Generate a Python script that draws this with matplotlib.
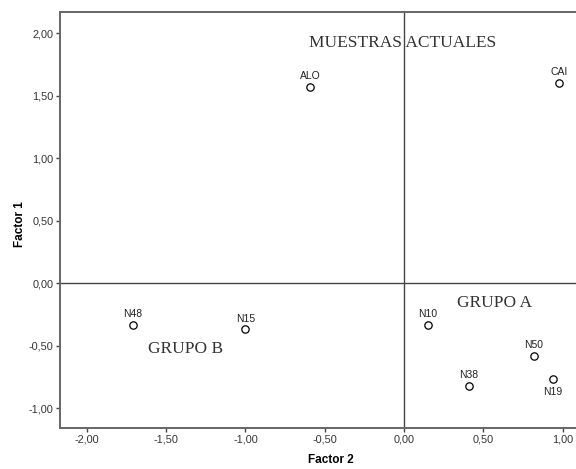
import matplotlib.pyplot as plt
from matplotlib.ticker import FuncFormatter

# Datos (Factor 2 en x, Factor 1 en y)
names = ["ALO", "CAI", "N48", "N15", "N10", "N50", "N38", "N19"]
factor2 = [-0.59, 0.98, -1.71, -1.00, 0.15, 0.82, 0.41, 0.94]
factor1 = [1.57, 1.605, -0.335, -0.37, -0.335, -0.58, -0.82, -0.765]
label_below = ["N19"]

groups = ["MUESTRAS ACTUALES", "GRUPO A", "GRUPO B"]
group_x = [-0.01, 0.57, -1.38]
group_y = [1.92, -0.16, -0.53]

xticks = [-2.0, -1.5, -1.0, -0.5, 0.0, 0.5, 1.0]
yticks = [-1.0, -0.5, 0.0, 0.5, 1.0, 1.5, 2.0]

sans = "Liberation Sans"
serif = "Liberation Serif"
spine_col = "#666666"

fig = plt.figure(figsize=(5.76, 4.69), dpi=100)
ax = fig.add_axes([60 / 576, 1 - 428 / 469, 516 / 576, 416 / 469])

ax.axhline(0, color="#444444", lw=1.0, zorder=1)
ax.axvline(0, color="#444444", lw=1.0, zorder=1)

ax.scatter(factor2, factor1, s=28, facecolors="white", edgecolors="black",
           linewidths=0.9, zorder=3)
for n, x, y in zip(names, factor2, factor1):
    if n in label_below:
        ax.annotate(n, (x, y), xytext=(0, -6), textcoords="offset points",
                    ha="center", va="top", fontsize=7.5, family=sans,
                    color="#222222")
    else:
        ax.annotate(n, (x, y), xytext=(0, 4), textcoords="offset points",
                    ha="center", va="bottom", fontsize=7.5, family=sans,
                    color="#222222")

for g, x, y in zip(groups, group_x, group_y):
    ax.text(x, y, g, ha="center", va="center", fontsize=12.5, family=serif,
            color="#333333")

ax.set_xlim(-2.17, 1.085)
ax.set_ylim(-1.16, 2.17)
ax.set_xticks(xticks)
ax.set_yticks(yticks)
fmt = FuncFormatter(lambda v, p: f"{v:.2f}".replace(".", ",").replace("-0,00", "0,00"))
ax.xaxis.set_major_formatter(fmt)
ax.yaxis.set_major_formatter(fmt)
ax.tick_params(direction="out", length=3, width=1, color="#444444",
               labelsize=7.8, pad=1.5)
for lab in ax.get_xticklabels() + ax.get_yticklabels():
    lab.set_family(sans)
    lab.set_color("#333333")

for s in ["left", "bottom", "top"]:
    ax.spines[s].set_color(spine_col)
    ax.spines[s].set_linewidth(1.4)
ax.spines["right"].set_visible(False)

ax.set_xlabel("Factor 2", fontsize=8.5, fontweight="bold", family=sans)
ax.set_ylabel("Factor 1", fontsize=8.5, fontweight="bold", family=sans)
ax.xaxis.set_label_coords(0.525, -0.063)
ax.yaxis.set_label_coords(-0.065, 0.49)

fig.savefig("out.png", dpi=100)
